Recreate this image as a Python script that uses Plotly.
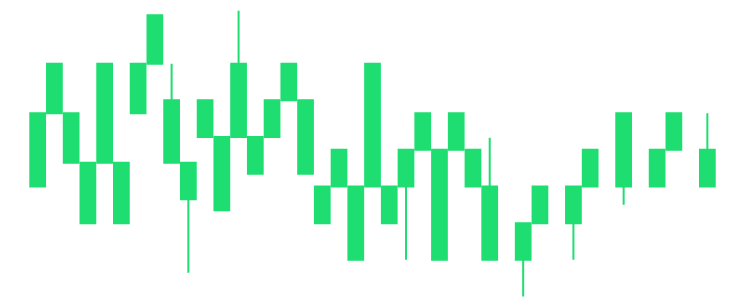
import plotly.graph_objects as go

x_idx = [0, 1, 2, 3, 4, 5, 6, 7, 8, 9, 10, 11, 12, 13, 14, 15, 16, 17, 18, 19,
         20, 21, 22, 23, 24, 25, 26, 27, 29, 30, 32, 33, 35, 37, 38, 40]
open_v = [31.5, 51.5, 51.5, 38, 38, 38, 51.5, 65, 55, 38, 45, 45, 45, 45, 45, 55, 55, 31.5, 31.5, 31.5,
          31.5, 31.5, 31.5, 41.5, 41.5, 41.5, 41.5, 31.5, 11.5, 21.5, 21.5, 31.5, 31.5, 31.5, 41.5, 31.5]
close_v = [51.5, 65, 38, 21.5, 65, 21.5, 65, 78.2, 38, 28, 55, 25, 65, 35, 55, 65, 35, 21.5, 41.5, 11.5,
           65, 21.5, 41.5, 51.5, 11.5, 51.5, 31.5, 11.5, 21.5, 31.5, 31.5, 41.5, 51.5, 41.5, 51.5, 41.5]
high_v = [51.5, 65, 51.5, 38, 65, 38, 65, 78.2, 65, 38, 55, 45, 79.4, 45, 55, 65, 55, 31.5, 41.5, 31.5,
          65, 31.5, 41.5, 51.5, 41.5, 51.5, 41.5, 44.8, 21.5, 31.5, 31.5, 41.5, 51.5, 41.5, 51.5, 51.5]
low_v = [31.5, 51.5, 38, 21.5, 38, 21.5, 51.5, 65, 38, 8, 45, 25, 45, 35, 45, 55, 35, 21.5, 31.5, 11.5,
         31.5, 21.5, 11.5, 41.5, 11.5, 41.5, 31.5, 11.5, 1.5, 21.5, 11.5, 31.5, 26.5, 31.5, 41.5, 31.5]

green = "#1EDE71"

fig = go.Figure(go.Candlestick(
    x=x_idx, open=open_v, high=high_v, low=low_v, close=close_v,
    increasing=dict(line=dict(color=green, width=2), fillcolor=green),
    decreasing=dict(line=dict(color=green, width=2), fillcolor=green),
    whiskerwidth=0,
    hoverinfo="skip",
))

fig.update_layout(
    width=739, height=302,
    margin=dict(l=0, r=0, t=0, b=0),
    paper_bgcolor="white", plot_bgcolor="white",
    showlegend=False,
    boxgap=0.12, boxgroupgap=0,
    xaxis=dict(visible=False, range=[-2.25, 41.89], rangeslider=dict(visible=False)),
    yaxis=dict(visible=False, range=[0, 82.36]),
)

fig.write_html("out.html", config={"displayModeBar": False},
               post_script="document.body.style.margin='0';")
